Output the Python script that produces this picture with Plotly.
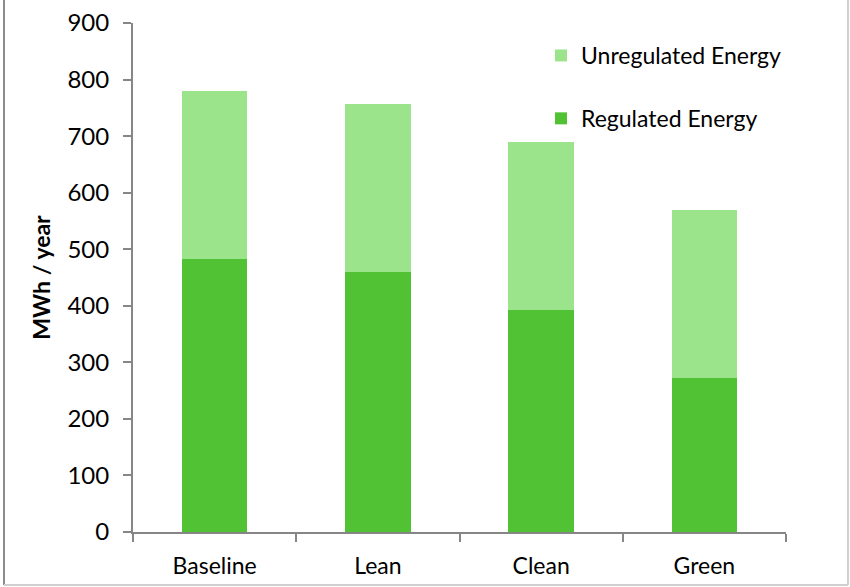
import plotly.graph_objects as go

# Annual energy use by scenario (MWh / year)
scenarios = ["Baseline", "Lean", "Clean", "Green"]
regulated = [482, 459, 392, 273]
unregulated = [298, 298, 298, 297]
y_ticks = [0, 100, 200, 300, 400, 500, 600, 700, 800, 900]

W, H = 850, 587
L, R, T, B = 133, 64, 23, 55
pw, ph = W - L - R, H - T - B


def px_x(x):
    return (x - L) / pw


def px_y(y):
    return (H - B - y) / ph


FONT = "Lato, 'Open Sans', sans-serif"
AXIS = "#868686"
FS = 24

fig = go.Figure()
fig.add_trace(go.Bar(
    x=scenarios, y=regulated, name="Regulated Energy",
    marker=dict(color="#50C233", line=dict(width=0)),
    legendgroup="reg", legendrank=2,
))
fig.add_trace(go.Bar(
    x=scenarios, y=unregulated, name="Unregulated Energy",
    marker=dict(color="#9BE48C", line=dict(width=0)),
    legendgroup="unreg", legendrank=1,
))

fig.update_layout(
    width=W, height=H,
    margin=dict(l=L, r=R, t=T, b=B, pad=0, autoexpand=False),
    barmode="stack",
    bargap=0.6,
    plot_bgcolor="white",
    paper_bgcolor="white",
    font=dict(family=FONT, size=FS, color="#000000"),
    showlegend=True,
    legend=dict(
        x=px_x(541), y=px_y(34), xanchor="left", yanchor="top",
        traceorder="grouped", tracegroupgap=30,
        itemwidth=30, font=dict(size=FS - 1),
        bgcolor="rgba(0,0,0,0)",
    ),
    xaxis=dict(
        showline=True, linecolor=AXIS, linewidth=2,
        ticks="outside", ticklen=8, tickwidth=2, tickcolor=AXIS,
        tickson="boundaries", showgrid=False,
        ticklabelstandoff=12,
        tickfont=dict(size=FS - 1),
    ),
    yaxis=dict(
        range=[0, 900], tickvals=y_ticks,
        showline=True, linecolor=AXIS, linewidth=2,
        ticks="outside", ticklen=8, tickwidth=2, tickcolor=AXIS,
        showgrid=False, zeroline=False,
        ticklabelstandoff=9,
        tickfont=dict(size=FS),
        title=dict(text="<b>MWh / year</b>", font=dict(size=FS - 1), standoff=10),
    ),
    shapes=[
        dict(type="line", xref="paper", yref="paper",
             x0=px_x(4), x1=px_x(4), y0=px_y(585), y1=px_y(-5),
             line=dict(color="#8C8C8C", width=2)),
        dict(type="line", xref="paper", yref="paper",
             x0=px_x(4), x1=px_x(848), y0=px_y(585), y1=px_y(585),
             line=dict(color="#D0D0D0", width=2)),
        dict(type="line", xref="paper", yref="paper",
             x0=px_x(848), x1=px_x(848), y0=px_y(585), y1=px_y(-5),
             line=dict(color="#D0D0D0", width=2)),
    ],
)

fig.write_html("out.html")
